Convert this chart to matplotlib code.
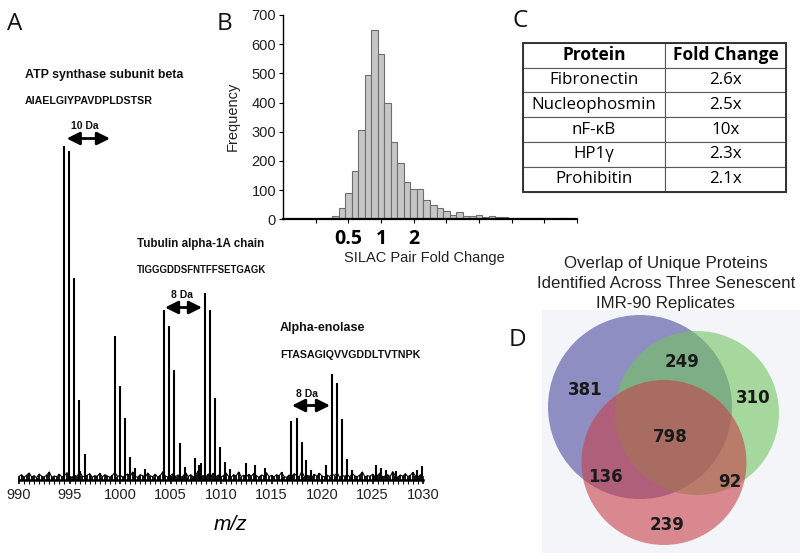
import matplotlib
matplotlib.use('Agg')
import matplotlib.pyplot as plt
import numpy as np
from matplotlib.patches import Circle, FancyArrowPatch, Rectangle

# ---------------- data ----------------
# Panel A: mass spectrum (relative intensity, %)
peak_mz = [994.46, 994.95, 995.48, 995.97, 996.50,
           999.47, 999.97, 1000.50, 1000.99, 1001.45, 1002.5,
           1004.36, 1004.88, 1005.38, 1005.90, 1006.4, 1007.46, 1007.8, 1008.05,
           1008.38, 1008.91, 1009.44, 1009.93, 1010.40, 1010.9, 1012.44, 1013.40, 1014.4,
           1016.97, 1017.49, 1017.99, 1018.45, 1018.9, 1020.43, 1020.96, 1021.45, 1021.98,
           1022.47, 1022.97, 1025.35, 1025.80, 1026.30, 1027.3, 1029.40, 1029.90]
peak_int = [100, 98.5, 60.5, 24, 7.8,
            43, 28, 18.6, 6.9, 3.5, 3.2,
            51, 46, 33, 11, 3.8, 6.6, 4.5, 5.0,
            56, 51, 24.5, 10, 5.4, 3.2, 5.0, 4.6, 3.5,
            17.7, 18.6, 11.4, 6.0, 3.0, 4.5, 31.7, 29, 18.3,
            6.3, 3.0, 4.5, 3.6, 3.0, 2.8, 3.0, 4.2]
noise_int = [1.0,1.6,0.8,1.4,2.1,0.9,1.3,0.7,1.8,1.1,0.9,1.5,2.4,0.8,1.2,1.0,1.7,0.9,1.3,2.2,
             1.1,0.8,1.5,1.0,2.6,1.2,0.9,1.4,1.9,0.8,1.3,1.1,2.0,0.9,1.6,1.2,0.8,1.4,2.3,1.0,
             1.5,0.9,1.2,1.8,1.0,2.4,1.1,0.8,1.6,1.3,0.9,2.1,1.2,1.0,1.7,0.8,1.4,2.5,1.1,0.9,
             1.3,1.9,1.0,1.5,0.8,1.2,2.2,1.0,1.6,0.9,1.4,2.8,1.1,1.3,0.9,1.8,1.2,2.0,1.0,1.5,
             0.9,1.3,2.1,1.1,0.8,1.6,1.2,2.4,1.0,1.4,0.9,1.7,1.1,2.0,1.3,0.8,1.5,1.2,2.2,1.0,
             1.4,0.9,1.6,1.2,2.3,1.0,0.8,1.5,1.1,1.9,1.3,0.9,2.6,1.0,1.4,1.2,0.8,1.7,1.1,2.0,
             1.2,0.9,1.5,1.0,1.8,1.3,2.2,0.8,1.4,1.1,1.6,0.9,2.0,1.2,1.0,1.5,2.4,0.9,1.3,1.1,
             1.7,1.0,1.4,2.1,0.9,1.2,1.6,1.0,2.5,1.3,0.8,1.5,1.1,1.9,1.0,1.4,2.3,1.2,0.9,1.6,
             1.2]
mz_ticks = [990, 995, 1000, 1005, 1010, 1015, 1020, 1025, 1030]

# Panel B: histogram of log2(SILAC pair fold change)
log2_bin_centers = [-2.2, -2.0, -1.8, -1.6, -1.4, -1.2, -1.0, -0.8, -0.6, -0.4, -0.2,
                    0.0, 0.2, 0.4, 0.6, 0.8, 1.0, 1.2, 1.4, 1.6, 1.8, 2.0, 2.2, 2.4,
                    2.6, 2.8, 3.0, 3.2, 3.4, 3.6, 3.8, 4.0, 4.2, 4.4, 4.6, 4.8, 5.0,
                    5.2, 5.4, 5.6, 5.8]
frequency = [1, 1, 2, 3, 13, 38, 89, 166, 306, 494, 649,
             565, 397, 264, 192, 129, 104, 104, 65, 48, 38, 27, 15, 24,
             13, 11, 15, 7, 10, 8, 7, 6, 5, 4, 4, 3, 3,
             2, 2, 3, 2]
fold_tick_pos = [-1, 0, 1]
fold_tick_labels = ['0.5', '1', '2']
freq_ticks = [0, 100, 200, 300, 400, 500, 600, 700]

# Panel C: table
table_header = ['Protein', 'Fold Change']
proteins = ['Fibronectin', 'Nucleophosmin', 'nF-\u03baB', 'HP1\u03b3', 'Prohibitin']
fold_changes = ['2.6x', '2.5x', '10x', '2.3x', '2.1x']

# Panel D: Venn counts
venn_regions = ['1 only', '2 only', '3 only', '1&2', '1&3', '2&3', '1&2&3']
venn_counts = [381, 310, 239, 249, 136, 92, 798]

# ---------------- figure ----------------
W, H = 800, 559
fig = plt.figure(figsize=(8, 5.59), dpi=100)
fig.patch.set_facecolor('white')

def fx(x):
    return x / W

def fy(y):
    return 1 - y / H

# ---- Panel A ----
ax = fig.add_axes([fx(19), fy(480), 404 / W, (480 - 145.7) / H])
ax.patch.set_alpha(0)
noise_mz = np.linspace(990, 1030, len(noise_int))
ax.vlines(noise_mz, 0, noise_int, color='black', lw=1.3)
ax.plot(noise_mz, noise_int, color='black', lw=0.8)
ax.vlines(peak_mz, 0, peak_int, color='black', lw=1.5)
ax.set_xlim(990, 1030)
ax.set_ylim(0, 100)
for s in ['left', 'top', 'right']:
    ax.spines[s].set_visible(False)
ax.spines['bottom'].set_linewidth(1.8)
ax.set_yticks([])
ax.set_xticks(mz_ticks)
ax.set_xticks(np.arange(990, 1030.01, 0.5), minor=True)
ax.tick_params(axis='x', which='major', length=6, width=1.2, direction='inout', pad=3,
               labelsize=10.5, labelcolor='#222222')
ax.tick_params(axis='x', which='minor', length=3, width=0.8, direction='out')
for lbl in ax.get_xticklabels():
    lbl.set_fontfamily('Liberation Sans')
fig.text(fx(230), fy(525), 'm/z', style='italic', fontsize=15, ha='center', va='center',
         family='Liberation Sans')

def arrow(x0, x1, y):
    a = FancyArrowPatch((fx(x0), fy(y)), (fx(x1), fy(y)), transform=fig.transFigure,
                        arrowstyle='<|-|>,head_length=1.1,head_width=0.55',
                        mutation_scale=7, lw=2.0, color='black', shrinkA=0, shrinkB=0)
    fig.add_artist(a)

bold = dict(family='Liberation Sans', weight='bold', va='center', ha='left', color='#111111')
fig.text(fx(25), fy(75), 'ATP synthase subunit beta', fontsize=8.9, **bold)
fig.text(fx(25), fy(100.5), 'AIAELGIYPAVDPLDSTSR', fontsize=7.7, **bold)
fig.text(fx(85), fy(126), '10 Da', fontsize=7.5, **{**bold, 'ha': 'center'})
arrow(66.7, 110, 138.5)
fig.text(fx(137), fy(244), 'Tubulin alpha-1A chain', fontsize=8.4, **bold)
fig.text(fx(137), fy(270), 'TIGGGDDSFNTFFSETGAGK', fontsize=6.9, **bold)
fig.text(fx(182), fy(295.5), '8 Da', fontsize=7.5, **{**bold, 'ha': 'center'})
arrow(165, 202, 307.5)
fig.text(fx(280), fy(328.5), 'Alpha-enolase', fontsize=9.0, **bold)
fig.text(fx(280), fy(354.5), 'FTASAGIQVVGDDLTVTNPK', fontsize=7.7, **bold)
fig.text(fx(307), fy(394), '8 Da', fontsize=7.5, **{**bold, 'ha': 'center'})
arrow(292, 330, 405.5)

# panel letters
for letter, x, y in [('A', 7, 23.5), ('B', 217, 23.5), ('C', 512, 21), ('D', 509, 340)]:
    fig.text(fx(x), fy(y), letter, fontsize=17.5, ha='left', va='center',
             family='Open Sans', color='#111111')

# ---- Panel B ----
axh = fig.add_axes([fx(283), fy(219.3), 294 / W, 204.3 / H])
axh.bar(log2_bin_centers, frequency, width=0.2, color='#c6c6c6', edgecolor='#6e6e6e', lw=0.8)
axh.set_xlim(-3, 6)
axh.set_ylim(0, 700)
for s in ['top', 'right']:
    axh.spines[s].set_visible(False)
axh.spines['bottom'].set_linewidth(1.6)
axh.spines['left'].set_linewidth(1.0)
axh.set_yticks(freq_ticks)
axh.tick_params(axis='y', length=3, width=0.8, labelsize=10.5, pad=2, labelcolor='#222222')
for lbl in axh.get_yticklabels():
    lbl.set_fontfamily('Liberation Sans')
axh.set_xticks(list(range(-2, 7)))
axh.set_xticklabels([fold_tick_labels[fold_tick_pos.index(t)] if t in fold_tick_pos else ''
                     for t in range(-2, 7)])
axh.tick_params(axis='x', length=3, width=0.8, pad=4, labelsize=14)
for lbl in axh.get_xticklabels():
    lbl.set_fontfamily('Open Sans')
    lbl.set_fontweight('bold')
fig.text(fx(424), fy(258), 'SILAC Pair Fold Change', fontsize=10.5, ha='center', va='center',
         family='Liberation Sans', color='#222222')
fig.text(fx(233), fy(116), 'Frequency', fontsize=10.5, ha='center', va='center',
         rotation=90, family='Liberation Sans', color='#222222')

# ---- Panel C ----
axt = fig.add_axes([fx(523), fy(191.7), 263 / W, 149 / H])
axt.axis('off')
rows = [[p, f] for p, f in zip(proteins, fold_changes)]
tbl = axt.table(cellText=rows, colLabels=table_header, bbox=[0, 0, 1, 1],
                colWidths=[142 / 263, 121 / 263], cellLoc='center')
tbl.auto_set_font_size(False)
for (r, c), cell in tbl.get_celld().items():
    cell.set_edgecolor('#5a5a5a')
    cell.set_linewidth(0.8)
    t = cell.get_text()
    t.set_fontfamily('Open Sans')
    t.set_fontsize(12.5 if r == 0 else 12.2)
    t.set_color('#000000')
    if r == 0:
        t.set_fontweight('bold')
axt.add_patch(Rectangle((0, 0), 1, 1, transform=axt.transAxes, fill=False,
                        edgecolor='#333333', lw=1.4, clip_on=False))

# ---- Panel D ----
title_lines = ['Overlap of Unique Proteins', 'Identified Across Three Senescent', 'IMR-90 Replicates']
for i, line in enumerate(title_lines):
    fig.text(fx(666), fy(263.5 + 20 * i), line, fontsize=12.2, ha='center', va='center',
             family='Liberation Sans', color='#222222')
axv = fig.add_axes([fx(542), fy(553), 258 / W, 243 / H])
axv.set_xlim(542, 800)
axv.set_ylim(553, 310)
axv.set_facecolor('#f4f5f9')
for s in axv.spines.values():
    s.set_visible(False)
axv.set_xticks([])
axv.set_yticks([])
circles = [((640, 407), 92, '#4a4aa0'),
           ((697, 413), 82, '#72c45e'),
           ((664, 462.5), 82.5, '#c8404a')]
for (cx, cy), r, col in circles:
    axv.add_patch(Circle((cx, cy), r, facecolor=col, alpha=0.6, edgecolor='none'))
label_pos = {'1 only': (585, 390), '2 only': (753, 398), '3 only': (667, 525),
             '1&2': (682, 362), '1&3': (605, 477), '2&3': (730, 482), '1&2&3': (670, 437)}
for reg, cnt in zip(venn_regions, venn_counts):
    x, y = label_pos[reg]
    axv.text(x, y, str(cnt), ha='center', va='center', fontsize=12, fontweight='bold',
             family='DejaVu Sans', color='#1a1a1a')

fig.savefig('out.png', dpi=100)
